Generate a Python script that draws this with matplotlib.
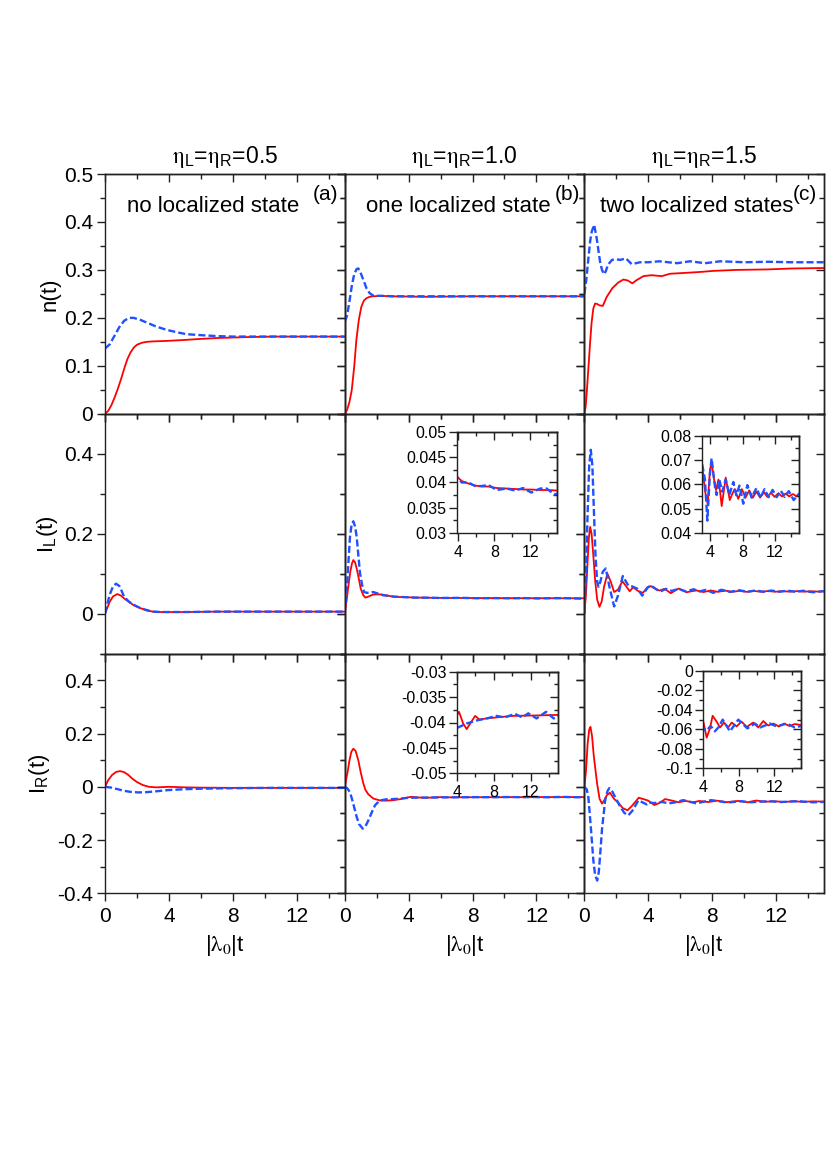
import matplotlib
matplotlib.use('Agg')
import matplotlib.pyplot as plt
from matplotlib.ticker import MultipleLocator, FuncFormatter

plt.rcParams['font.family'] = ['Liberation Sans', 'DejaVu Sans']
plt.rcParams['mathtext.fontset'] = 'stix'
plt.rcParams['axes.unicode_minus'] = False

# ---------------- data ----------------
# Row 1 : n(t)
t_n_a_red = [0, 0.2, 0.4, 0.6, 0.8, 1.0, 1.2, 1.4, 1.6, 1.8, 2.0, 2.3, 2.6, 3.0, 3.86, 5.0, 5.9, 7.0, 8.0, 9.0, 10.5, 12.0, 13.5, 15.0]
n_a_red = [0, 0.006, 0.018, 0.034, 0.052, 0.072, 0.094, 0.114, 0.128, 0.138, 0.144, 0.148, 0.150, 0.151, 0.152, 0.154, 0.156, 0.158, 0.159, 0.160, 0.161, 0.161, 0.161, 0.161]
t_n_a_blue = [0, 0.3, 0.6, 0.9, 1.2, 1.5, 1.8, 2.2, 2.7, 3.2, 3.86, 4.5, 5.1, 6.0, 7.0, 8.0, 10.0, 12.0, 15.0]
n_a_blue = [0.136, 0.145, 0.163, 0.181, 0.194, 0.200, 0.200, 0.196, 0.189, 0.182, 0.175, 0.170, 0.166, 0.164, 0.162, 0.161, 0.161, 0.161, 0.161]

t_n_b_red = [0, 0.15, 0.3, 0.44, 0.6, 0.73, 0.88, 1.04, 1.2, 1.36, 1.56, 1.8, 2.2, 3.0, 5.0, 8.0, 11.0, 15.0]
n_b_red = [0, 0.008, 0.025, 0.049, 0.100, 0.154, 0.195, 0.223, 0.236, 0.241, 0.244, 0.245, 0.246, 0.245, 0.244, 0.245, 0.245, 0.245]
t_n_b_blue = [0, 0.15, 0.3, 0.45, 0.6, 0.75, 0.85, 0.95, 1.1, 1.25, 1.36, 1.55, 1.75, 1.9, 2.3, 3.0, 5.0, 8.0, 11.0, 15.0]
n_b_blue = [0.192, 0.205, 0.235, 0.268, 0.292, 0.302, 0.303, 0.298, 0.285, 0.272, 0.262, 0.252, 0.247, 0.246, 0.246, 0.245, 0.245, 0.245, 0.245, 0.245]

t_n_c_red = [0, 0.08, 0.15, 0.25, 0.36, 0.45, 0.56, 0.67, 0.8, 0.95, 1.15, 1.4, 1.75, 2.13, 2.44, 2.71, 3.0, 3.28, 3.69, 4.2, 4.84, 5.36, 6.4, 7.35, 8.07, 9.5, 11.4, 13.0, 15.0]
n_c_red = [0, 0.015, 0.046, 0.095, 0.150, 0.190, 0.220, 0.230, 0.229, 0.226, 0.225, 0.244, 0.262, 0.274, 0.280, 0.278, 0.272, 0.279, 0.287, 0.289, 0.287, 0.292, 0.294, 0.296, 0.298, 0.300, 0.301, 0.303, 0.304]
t_n_c_blue = [0, 0.12, 0.25, 0.36, 0.46, 0.61, 0.77, 0.88, 0.98, 1.1, 1.23, 1.35, 1.46, 1.73, 2.0, 2.25, 2.6, 2.96, 3.48, 4.0, 4.7, 5.8, 6.6, 7.55, 8.5, 10.0, 11.5, 13.0, 15.0]
n_c_blue = [0.250, 0.280, 0.324, 0.360, 0.380, 0.394, 0.366, 0.340, 0.317, 0.300, 0.291, 0.298, 0.310, 0.321, 0.322, 0.321, 0.324, 0.312, 0.316, 0.316, 0.318, 0.314, 0.318, 0.314, 0.318, 0.316, 0.317, 0.316, 0.316]

# Row 2 : I_L(t)
t_il_a_red = [0, 0.15, 0.3, 0.5, 0.77, 1.0, 1.2, 1.5, 1.8, 2.2, 2.6, 3.0, 3.5, 4.0, 5.0, 7.0, 10.0, 15.0]
il_a_red = [0, 0.015, 0.030, 0.043, 0.049, 0.045, 0.038, 0.029, 0.021, 0.014, 0.008, 0.005, 0.004, 0.004, 0.004, 0.005, 0.005, 0.005]
t_il_a_blue = [0, 0.15, 0.3, 0.5, 0.69, 0.9, 1.05, 1.2, 1.5, 1.8, 2.2, 2.6, 3.0, 3.5, 4.0, 5.0, 7.0, 10.0, 15.0]
il_a_blue = [0, 0.025, 0.048, 0.068, 0.075, 0.069, 0.056, 0.042, 0.030, 0.022, 0.014, 0.009, 0.005, 0.004, 0.004, 0.004, 0.005, 0.005, 0.005]

t_il_b_red = [0, 0.12, 0.25, 0.35, 0.45, 0.54, 0.65, 0.75, 0.88, 1.0, 1.15, 1.29, 1.5, 1.8, 2.3, 2.7, 3.1, 3.5, 3.8, 4.36, 5.1, 5.84, 6.58, 7.32, 8.25, 9.36, 10.3, 11.2, 12.1, 13.1, 14.0, 15.0]
il_b_red = [0, 0.034, 0.075, 0.105, 0.125, 0.134, 0.128, 0.113, 0.088, 0.063, 0.047, 0.040, 0.043, 0.048, 0.048, 0.045, 0.042, 0.0415, 0.0412, 0.0403, 0.0398, 0.0394, 0.0392, 0.0392, 0.0389, 0.0388, 0.0387, 0.0386, 0.0386, 0.0385, 0.0385, 0.0384]
t_il_b_blue = [0, 0.12, 0.22, 0.33, 0.44, 0.54, 0.65, 0.75, 0.85, 0.96, 1.1, 1.21, 1.4, 1.79, 2.4, 3.0, 3.4, 3.8, 4.36, 5.1, 5.84, 6.58, 7.32, 8.25, 9.36, 10.3, 11.2, 12.1, 13.1, 13.8, 14.7, 15.0]
il_b_blue = [0, 0.050, 0.120, 0.192, 0.225, 0.231, 0.218, 0.192, 0.148, 0.100, 0.070, 0.054, 0.052, 0.054, 0.046, 0.043, 0.042, 0.0412, 0.0400, 0.0400, 0.0393, 0.0393, 0.0395, 0.0385, 0.0388, 0.0384, 0.0389, 0.0380, 0.0388, 0.0388, 0.0376, 0.0378]

t_il_c_red = [0, 0.1, 0.2, 0.28, 0.36, 0.45, 0.55, 0.67, 0.8, 0.94, 1.08, 1.23, 1.44, 1.65, 1.86, 2.1, 2.38, 2.62, 2.84, 3.05, 3.35, 3.66, 3.95, 4.15, 4.45, 4.7, 5.0, 5.2, 5.4, 5.65, 5.9, 6.15, 6.4, 6.7, 7.0, 7.45, 7.9, 8.35, 8.8, 9.25, 9.7, 10.15, 10.6, 11.05, 11.5, 11.95, 12.4, 12.85, 13.3, 13.75, 14.2, 14.6, 15.0]
il_c_red = [0, 0.050, 0.130, 0.190, 0.217, 0.200, 0.150, 0.084, 0.035, 0.017, 0.030, 0.067, 0.100, 0.080, 0.054, 0.060, 0.081, 0.068, 0.056, 0.066, 0.057, 0.052, 0.066, 0.069, 0.062, 0.0576, 0.062, 0.057, 0.051, 0.057, 0.0628, 0.058, 0.0535, 0.056, 0.058, 0.054, 0.058, 0.0545, 0.0575, 0.0545, 0.057, 0.0545, 0.0568, 0.0548, 0.0565, 0.0548, 0.0563, 0.055, 0.0562, 0.055, 0.056, 0.0552, 0.0558]
t_il_c_blue = [0, 0.1, 0.2, 0.3, 0.4, 0.5, 0.6, 0.7, 0.8, 0.88, 1.0, 1.15, 1.34, 1.55, 1.86, 2.1, 2.4, 2.75, 3.0, 3.33, 3.62, 3.95, 4.15, 4.57, 4.77, 5.1, 5.47, 5.9, 6.34, 6.84, 7.2, 7.6, 8.07, 8.57, 9.1, 9.7, 10.2, 10.7, 11.2, 11.7, 12.2, 12.7, 13.2, 13.7, 14.3, 15.0]
il_c_blue = [0, 0.100, 0.250, 0.370, 0.410, 0.370, 0.250, 0.140, 0.080, 0.067, 0.080, 0.105, 0.113, 0.070, 0.018, 0.045, 0.094, 0.070, 0.068, 0.062, 0.045, 0.0646, 0.0708, 0.059, 0.0556, 0.062, 0.057, 0.062, 0.0556, 0.061, 0.0555, 0.0595, 0.052, 0.0597, 0.0545, 0.0585, 0.0545, 0.058, 0.0547, 0.0577, 0.0547, 0.0574, 0.0548, 0.0572, 0.0535, 0.0563]

# Row 3 : I_R(t)
t_ir_a_red = [0, 0.2, 0.45, 0.7, 0.94, 1.2, 1.45, 1.7, 2.0, 2.35, 2.75, 3.2, 4.0, 5.0, 6.0, 8.0, 10.0, 12.0, 15.0]
ir_a_red = [0, 0.025, 0.045, 0.056, 0.059, 0.055, 0.045, 0.031, 0.018, 0.007, 0.000, -0.002, 0.000, -0.002, -0.003, -0.004, -0.004, -0.004, -0.004]
t_ir_a_blue = [0, 0.4, 0.8, 1.2, 1.6, 2.1, 2.6, 3.0, 3.5, 4.0, 5.0, 6.0, 8.0, 10.0, 12.0, 15.0]
ir_a_blue = [0, -0.003, -0.009, -0.015, -0.019, -0.021, -0.020, -0.018, -0.015, -0.012, -0.009, -0.007, -0.005, -0.004, -0.004, -0.004]

t_ir_b_red = [0, 0.1, 0.2, 0.3, 0.42, 0.54, 0.68, 0.85, 1.0, 1.17, 1.3, 1.48, 1.79, 2.2, 2.6, 3.05, 3.5, 4.05, 4.25, 4.7, 5.08, 5.6, 6.0, 6.45, 7.25, 8.3, 10.1, 13.0, 15.0]
ir_b_red = [0, 0.030, 0.062, 0.100, 0.132, 0.143, 0.135, 0.100, 0.055, 0.012, -0.012, -0.028, -0.044, -0.051, -0.052, -0.050, -0.046, -0.0385, -0.0379, -0.0402, -0.0413, -0.0398, -0.0387, -0.0394, -0.0392, -0.0390, -0.0387, -0.0386, -0.0385]
t_ir_b_blue = [0, 0.15, 0.33, 0.5, 0.65, 0.75, 0.9, 1.13, 1.3, 1.48, 1.7, 1.9, 2.2, 2.6, 3.05, 3.5, 4.0, 5.08, 6.16, 7.25, 8.3, 9.2, 10.3, 11.1, 11.75, 12.65, 13.67, 14.5, 15.0]
ir_b_blue = [0, -0.005, -0.020, -0.055, -0.090, -0.113, -0.140, -0.157, -0.148, -0.126, -0.095, -0.069, -0.051, -0.047, -0.046, -0.044, -0.0411, -0.0402, -0.0396, -0.0392, -0.0387, -0.0390, -0.0383, -0.0390, -0.0382, -0.0392, -0.0379, -0.0392, -0.0387]

t_ir_c_red = [0, 0.1, 0.2, 0.3, 0.38, 0.48, 0.58, 0.67, 0.8, 0.95, 1.1, 1.25, 1.4, 1.6, 1.85, 2.13, 2.4, 2.7, 3.0, 3.4, 3.8, 4.0, 4.38, 4.75, 5.05, 5.5, 5.88, 6.33, 6.8, 7.2, 7.75, 8.3, 8.9, 9.6, 10.2, 10.75, 11.3, 11.9, 12.5, 13.1, 13.7, 14.3, 15.0]
ir_c_red = [0, 0.060, 0.160, 0.215, 0.225, 0.190, 0.120, 0.074, 0.010, -0.045, -0.063, -0.050, -0.032, -0.022, -0.045, -0.060, -0.080, -0.088, -0.070, -0.041, -0.048, -0.052, -0.0685, -0.059, -0.046, -0.052, -0.058, -0.053, -0.058, -0.053, -0.057, -0.052, -0.0575, -0.053, -0.058, -0.0514, -0.056, -0.054, -0.057, -0.054, -0.0565, -0.0545, -0.0555]
t_ir_c_blue = [0, 0.15, 0.25, 0.4, 0.56, 0.67, 0.8, 0.9, 0.98, 1.1, 1.3, 1.45, 1.56, 1.75, 1.92, 2.2, 2.5, 2.75, 3.0, 3.38, 3.9, 4.0, 4.38, 4.83, 5.3, 5.7, 6.18, 7.0, 7.94, 8.96, 9.8, 10.4, 11.5, 12.26, 13.4, 14.3, 15.0]
ir_c_blue = [0, -0.010, -0.040, -0.150, -0.276, -0.330, -0.352, -0.320, -0.260, -0.160, -0.050, -0.015, -0.005, -0.018, -0.038, -0.070, -0.098, -0.107, -0.090, -0.051, -0.066, -0.059, -0.061, -0.0565, -0.062, -0.058, -0.050, -0.062, -0.050, -0.059, -0.054, -0.058, -0.054, -0.057, -0.054, -0.058, -0.0565]

# labels
col_titles = [r'$\mathrm{\eta}_{\mathregular{L}}$=$\mathrm{\eta}_{\mathregular{R}}$=0.5',
              r'$\mathrm{\eta}_{\mathregular{L}}$=$\mathrm{\eta}_{\mathregular{R}}$=1.0',
              r'$\mathrm{\eta}_{\mathregular{L}}$=$\mathrm{\eta}_{\mathregular{R}}$=1.5']
row_labels = ['n(t)', r'I$_{\mathregular{L}}$(t)', r'I$_{\mathregular{R}}$(t)']
state_texts = ['no localized state', 'one localized state', 'two localized states']
panel_tags = ['(a)', '(b)', '(c)']
x_label = r'|$\mathrm{\lambda}_0$|t'

row_ylims = [(0, 0.5), (-0.1, 0.5), (-0.4, 0.5)]
row_ymaj = [0.1, 0.2, 0.2]
row_ymin = [0.05, 0.1, 0.1]

series = [
    [((t_n_a_red, n_a_red), (t_n_a_blue, n_a_blue)),
     ((t_n_b_red, n_b_red), (t_n_b_blue, n_b_blue)),
     ((t_n_c_red, n_c_red), (t_n_c_blue, n_c_blue))],
    [((t_il_a_red, il_a_red), (t_il_a_blue, il_a_blue)),
     ((t_il_b_red, il_b_red), (t_il_b_blue, il_b_blue)),
     ((t_il_c_red, il_c_red), (t_il_c_blue, il_c_blue))],
    [((t_ir_a_red, ir_a_red), (t_ir_a_blue, ir_a_blue)),
     ((t_ir_b_red, ir_b_red), (t_ir_b_blue, ir_b_blue)),
     ((t_ir_c_red, ir_c_red), (t_ir_c_blue, ir_c_blue))],
]

# insets: (row, col, xlim, ylim, ymajor, yminor, pixel rect)
insets = [
    (1, 1, (3.8, 15), (0.03, 0.05), 0.005, 0.0025, (456.7, 432.3, 557.3, 532.7)),
    (1, 2, (3.0, 15), (0.04, 0.08), 0.01, 0.005, (702.3, 436.0, 799.3, 532.7)),
    (2, 1, (4.0, 15), (-0.05, -0.03), 0.005, 0.0025, (456.7, 671.7, 558.3, 773.3)),
    (2, 2, (4.0, 15), (-0.1, 0.0), 0.02, 0.01, (703.3, 671.0, 801.0, 768.3)),
]

RED = '#ff0000'
BLUE = '#2050ff'

W, H = 827, 1170
L0, T0 = 105.0, 174.0
CW, RH = 239.7, 239.8

fig = plt.figure(figsize=(W / 100, H / 100), dpi=100)


def rect(x0, y0, x1, y1):
    return [x0 / W, 1 - y1 / H, (x1 - x0) / W, (y1 - y0) / H]


def fmt_func(v, pos):
    if abs(v) < 1e-9:
        return '0'
    return f'{round(v, 6):g}'


fmt = FuncFormatter(fmt_func)


def style_axes(ax, xmaj, xmin, ymaj, ymin, show_x, show_y, fs, maj_len, min_len, pad_y, pad_x):
    ax.xaxis.set_major_locator(MultipleLocator(xmaj))
    ax.xaxis.set_minor_locator(MultipleLocator(xmin))
    ax.yaxis.set_major_locator(MultipleLocator(ymaj))
    ax.yaxis.set_minor_locator(MultipleLocator(ymin))
    ax.xaxis.set_major_formatter(fmt)
    ax.yaxis.set_major_formatter(fmt)
    ax.tick_params(which='both', direction='out', top=False, right=False, width=1.0, colors='#222222')
    ax.tick_params(which='major', length=maj_len)
    ax.tick_params(which='minor', length=min_len)
    ax.tick_params(axis='y', labelsize=fs, pad=pad_y, labelleft=show_y, labelcolor='black')
    ax.tick_params(axis='x', labelsize=fs, pad=pad_x, labelbottom=show_x, labelcolor='black')
    for sp in ax.spines.values():
        sp.set_linewidth(1.0)
        sp.set_color('#222222')
    sx = ax.secondary_xaxis('top')
    sx.xaxis.set_major_locator(MultipleLocator(xmaj))
    sx.xaxis.set_minor_locator(MultipleLocator(xmin))
    sx.tick_params(which='both', direction='in', labeltop=False, width=1.0, colors='#222222')
    sx.tick_params(which='major', length=maj_len)
    sx.tick_params(which='minor', length=min_len)
    sx.spines['top'].set_linewidth(1.0)
    sy = ax.secondary_yaxis('right')
    sy.yaxis.set_major_locator(MultipleLocator(ymaj))
    sy.yaxis.set_minor_locator(MultipleLocator(ymin))
    sy.tick_params(which='both', direction='in', labelright=False, width=1.0, colors='#222222')
    sy.tick_params(which='major', length=maj_len)
    sy.tick_params(which='minor', length=min_len)
    sy.spines['right'].set_linewidth(1.0)


def draw_curves(ax, red, blue):
    ax.plot(red[0], red[1], color=RED, lw=1.3, solid_joinstyle='round')
    ax.plot(blue[0], blue[1], color=BLUE, lw=1.7, dashes=(3.0, 1.3))


axes = [[None] * 3 for _ in range(3)]
for r in range(3):
    for c in range(3):
        x0 = L0 + c * CW
        y0 = T0 + r * RH
        ax = fig.add_axes(rect(x0, y0, x0 + CW, y0 + RH))
        ax.set_facecolor('none')
        red, blue = series[r][c]
        draw_curves(ax, red, blue)
        ax.set_xlim(0, 15)
        ax.set_ylim(*row_ylims[r])
        style_axes(ax, 4, 2, row_ymaj[r], row_ymin[r], r == 2, c == 0, 15, 6, 3.6, 2.5, 4)
        axes[r][c] = ax

# column titles, text in first row
text_x = [0.45, 0.475, 0.469]
tag_x = [0.918, 0.931, 0.921]
for c in range(3):
    ax = axes[0][c]
    fig.text((L0 + (c + 0.5) * CW) / W, 1 - 157 / H, col_titles[c], ha='center', va='center', fontsize=16.5)
    ax.text(text_x[c], 0.866, state_texts[c], transform=ax.transAxes, ha='center', va='center', fontsize=16)
    ax.text(tag_x[c], 0.913, panel_tags[c], transform=ax.transAxes, ha='center', va='center', fontsize=15)
    fig.text((L0 + (c + 0.5) * CW) / W, 1 - 945 / H, x_label, ha='center', va='center', fontsize=16)

ylab_x = [50, 47, 39]
for r in range(3):
    fig.text(ylab_x[r] / W, 1 - (T0 + (r + 0.5) * RH) / H, row_labels[r], rotation=90,
             ha='center', va='center', fontsize=16)

for (r, c, xl, yl, ymaj, ymin, pr) in insets:
    iax = fig.add_axes(rect(*pr))
    iax.set_facecolor('none')
    red, blue = series[r][c]
    draw_curves(iax, red, blue)
    iax.set_xlim(*xl)
    iax.set_ylim(*yl)
    style_axes(iax, 4, 2, ymaj, ymin, True, True, 11.5, 5.5, 3.2, 2.0, 3)

fig.savefig('out.png', dpi=100)
